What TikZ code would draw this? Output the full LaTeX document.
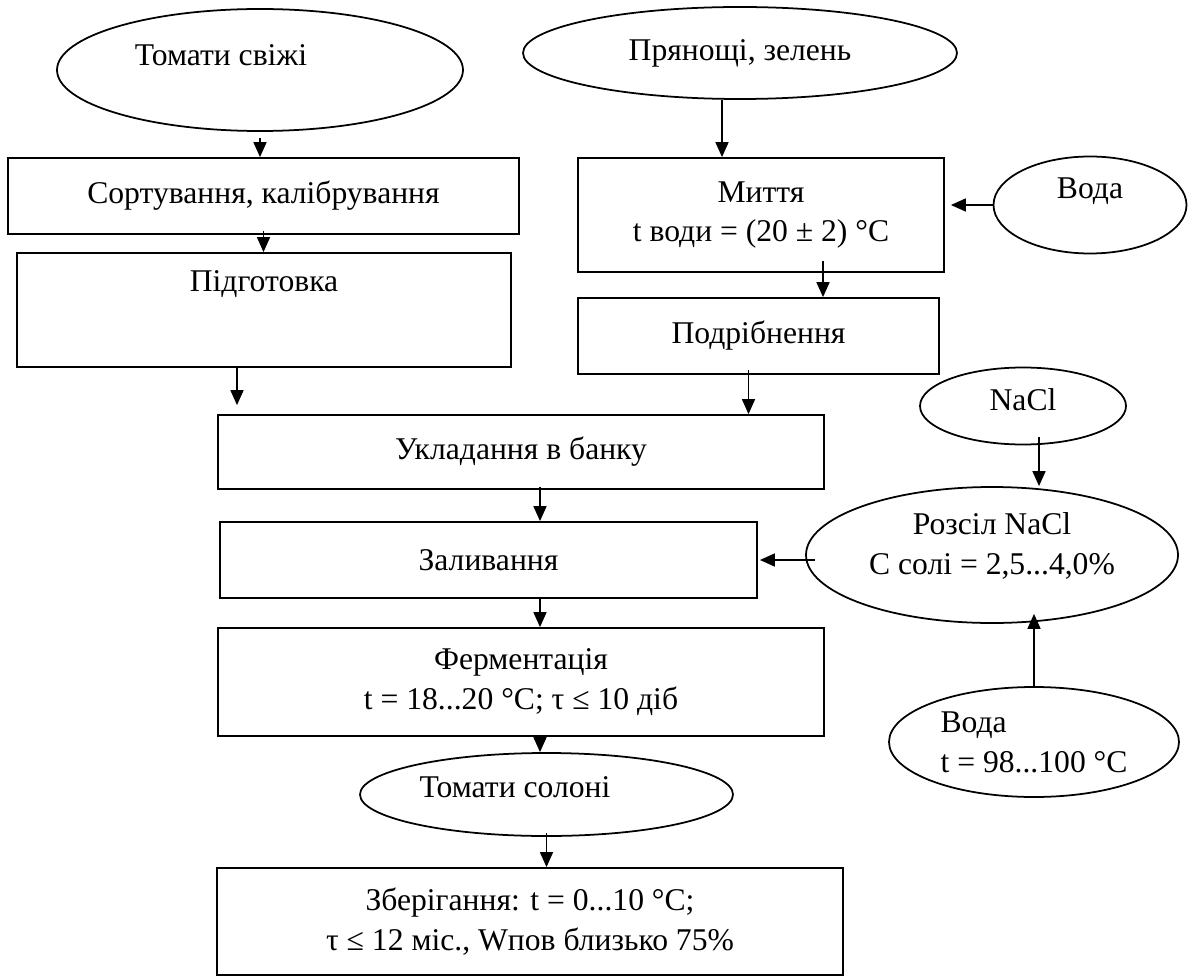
\documentclass[tikz,border=0pt]{standalone}
\usepackage{fontspec}
\setmainfont{Liberation Serif}
\usetikzlibrary{arrows.meta,positioning,calc,shapes.geometric}
\tikzset{
  flowarr/.style={-{Triangle[length=3mm,width=2.6mm]}, line width=0.9pt},
  flowbox/.style={draw, line width=1pt, rectangle, align=center, inner sep=0pt},
  flowoval/.style={draw, line width=1pt, ellipse, inner sep=0pt},
}

\begin{document}
\begin{tikzpicture}[
  font=\fontsize{18}{22.7}\selectfont,
]
  \useasboundingbox (0,0) rectangle (23.88,-19.52);

  % left column: tomatoes
  \node[flowoval, minimum width=8.12cm, minimum height=2.44cm,
        label={[xshift=-0.78cm, yshift=0.3cm]center:Томати свіжі}] (fresh) at (5.2,-1.4) {};
  \node[flowbox, minimum width=10.22cm, minimum height=1.52cm] (sort) at (5.27,-3.92) {Сортування, калібрування};
  \node[flowbox, minimum width=9.88cm, minimum height=2.28cm,
        label={[anchor=center, yshift=-0.64cm]north:Підготовка}] (prep) at (5.28,-6.2) {};

  % right column: spices
  \node[flowoval, minimum width=8.68cm, minimum height=1.84cm,
        label={center:Прянощі, зелень}] (spice) at (14.8,-1.06) {};
  \node[flowbox, minimum width=7.32cm, minimum height=2.28cm] (wash) at (15.22,-4.3) {Миття\\t води = (20 ± 2) °C};
  \node[flowoval, minimum width=3.86cm, minimum height=1.94cm,
        label={[yshift=0.28cm]center:Вода}] (water1) at (21.8,-4.1) {};
  \node[flowbox, minimum width=7.22cm, minimum height=1.52cm] (chop) at (15.17,-6.72) {Подрібнення};

  % brine
  \node[flowoval, minimum width=4.12cm, minimum height=1.54cm,
        label={[yshift=0.12cm]center:NaCl}] (nacl) at (20.46,-8.12) {};
  \node[flowoval, minimum width=7.44cm, minimum height=2.72cm,
        label={[align=center, yshift=0.18cm]center:Розсіл NaCl\\C солі = 2,5...4,0\%}] (brine) at (19.84,-11.1) {};
  \node[flowoval, minimum width=5.8cm, minimum height=2.2cm,
        label={[align=left]center:Вода\\t = 98...100 °C}] (water2) at (20.68,-14.84) {};

  % main line
  \node[flowbox, minimum width=12.12cm, minimum height=1.48cm] (pack) at (10.42,-9.04) {Укладання в банку};
  \node[flowbox, minimum width=10.74cm, minimum height=1.52cm] (pour) at (9.77,-11.2) {Заливання};
  \node[flowbox, minimum width=12.12cm, minimum height=2.16cm] (ferm) at (10.42,-13.64) {Ферментація\\t = 18...20 °C; τ ≤ 10 діб};
  \node[flowoval, minimum width=7.46cm, minimum height=1.66cm,
        label={[xshift=-0.63cm, yshift=0.15cm]center:Томати солоні}] (salted) at (10.93,-15.89) {};
  \node[flowbox, minimum width=12.52cm, minimum height=2.14cm] (store) at (10.6,-18.43) {Зберігання: t = 0...10 °C;\\τ ≤ 12 міс., Wпов близько 75\%};

  % arrows
  \draw[flowarr] ([yshift=-1.2mm]fresh.south) -- (fresh.south |- sort.north);
  \draw[flowarr] ([yshift=0.8mm]sort.south) -- (sort.south |- prep.north);
  \draw[flowarr] ([xshift=-5.4mm]prep.south) -- ([xshift=-5.4mm, yshift=1.8mm]prep.south |- pack.north);
  \draw[flowarr] ([xshift=-3.6mm]spice.south) -- ([xshift=-3.6mm]spice.south |- wash.north);
  \draw[flowarr] (water1.west) -- ([xshift=1.2mm]wash.east |- water1.west);
  \draw[flowarr] ([xshift=12.4mm, yshift=2.4mm]wash.south) -- ([xshift=12.4mm]wash.south |- chop.north);
  \draw[flowarr] ([xshift=-2mm, yshift=1mm]chop.south) -- ([xshift=-2mm]chop.south |- pack.north);
  \draw[flowarr] ([xshift=3.2mm, yshift=1.6mm]nacl.south) -- ([xshift=3.2mm]nacl.south |- brine.north);
  \draw[flowarr] ([xshift=3.8mm, yshift=0.6mm]pack.south) -- ([xshift=3.8mm]pack.south |- pour.north);
  \draw[flowarr] ([xshift=2mm]brine.west |- pour.east) -- ([xshift=0.4mm]pour.east);
  \draw[flowarr] ([xshift=3.8mm]ferm.north |- pour.south) -- ([xshift=3.8mm]ferm.north);
  \draw[flowarr] ([xshift=3.8mm]ferm.south) -- ([xshift=3.8mm]ferm.south |- salted.north);
  \draw[flowarr] ([yshift=0.8mm]salted.south) -- (salted.south |- store.north);
  \draw[flowarr] (water2.north) -- ([yshift=2mm]water2.north |- brine.south);
\end{tikzpicture}
\end{document}
